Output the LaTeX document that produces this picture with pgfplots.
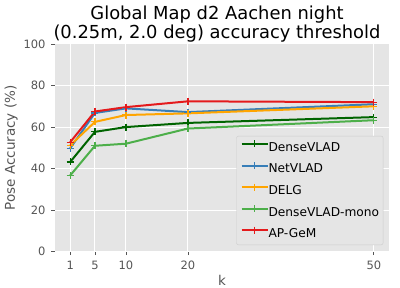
\documentclass[border=0pt]{standalone}
\usepackage{fontspec}
\setmainfont{DejaVu Sans}
\usepackage{pgfplots}
\pgfplotsset{compat=1.18}
\definecolor{ggbg}{HTML}{E5E5E5}
\definecolor{ggtick}{HTML}{555555}
\definecolor{cdense}{HTML}{006400}
\definecolor{cnet}{HTML}{377EB8}
\definecolor{cdelg}{HTML}{FFA500}
\definecolor{cmono}{HTML}{4DAF4A}
\definecolor{capgem}{HTML}{E41A1C}

\begin{document}
\begin{tikzpicture}
\begin{axis}[
    name=ax,
    scale only axis, width=334pt, height=207.7pt,
    xmin=-1.45, xmax=52.45, ymin=0, ymax=100,
    xtick={1,5,10,20,50}, ytick={0,20,...,100},
    tick pos=left, tick align=outside, major tick length=3.5pt,
    tick style={ggtick, line width=0.8pt},
    grid=major, major grid style={white, line width=1pt},
    axis line style={draw=none},
    axis background/.style={fill=ggbg},
    ticklabel style={font=\fontsize{11.5}{13}\selectfont, text=ggtick},
    /pgf/number format/assume math mode=true,
    yticklabel style={anchor=east, inner sep=0pt, xshift=-5.8pt},
    xticklabel style={anchor=base, inner sep=0pt, yshift=-14pt},
    xlabel={k},
    xlabel style={at={(axis description cs:0.5,0)}, anchor=base, yshift=-33.5pt,
        font=\fontsize{13.5}{16}\selectfont, text=ggtick, inner sep=0pt},
    ylabel={Pose Accuracy (\%)},
    ylabel style={at={(axis description cs:0,0.5)}, anchor=base, yshift=40pt,
        font=\fontsize{13.5}{16}\selectfont, text=ggtick, inner sep=0pt},
    every axis plot/.append style={line width=2pt, mark=+, mark size=3.5pt,
        mark options={line width=1.2pt}},
    legend cell align=left,
    legend image code/.code={
        \draw[mark repeat=2, mark phase=2] plot coordinates {(0pt,4.4pt) (13pt,4.4pt) (26pt,4.4pt)};},
    legend style={at={(axis description cs:0.983,0.032)}, anchor=south east,
        draw=black!20, fill=ggbg, rounded corners=2pt,
        font=\fontsize{12.2}{14}\selectfont,
        inner xsep=4pt, inner ysep=4.4pt, row sep=7.8pt,
        nodes={inner sep=0pt, text height=8.9pt, text depth=2.8pt},
        /tikz/every even column/.append style={column sep=11pt}},
]
\addplot[cdense] coordinates {(1,43.2) (5,57.7) (10,60.0) (20,62.0) (50,64.8)};
\addlegendentry{DenseVLAD}
\addplot[cnet] coordinates {(1,49.8) (5,66.8) (10,69.0) (20,67.2) (50,71.0)};
\addlegendentry{NetVLAD}
\addplot[cdelg] coordinates {(1,51.2) (5,62.5) (10,65.8) (20,66.6) (50,70.0)};
\addlegendentry{DELG}
\addplot[cmono] coordinates {(1,36.7) (5,51.0) (10,52.0) (20,59.3) (50,63.3)};
\addlegendentry{DenseVLAD-mono}
\addplot[capgem] coordinates {(1,52.7) (5,67.5) (10,69.6) (20,72.4) (50,72.0)};
\addlegendentry{AP-GeM}
\end{axis}
\node[anchor=base, font=\fontsize{17.9}{21}\selectfont] at ([shift={(-5pt,24pt)}]ax.north) {Global Map d2 Aachen night};
\node[anchor=base, font=\fontsize{17.9}{21}\selectfont] at ([shift={(-5pt,5.7pt)}]ax.north) {(0.25m, 2.0 deg) accuracy threshold};
\pgfresetboundingbox
\path ([shift={(-55pt,-36.3pt)}]ax.south west) rectangle ([shift={(11pt,44pt)}]ax.north east);
\end{tikzpicture}
\end{document}
